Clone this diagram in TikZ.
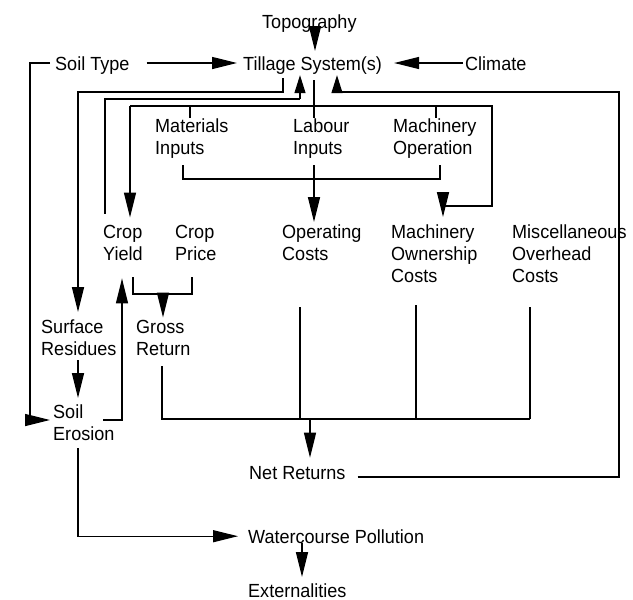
\documentclass[tikz,border=0pt]{standalone}
\usepackage{fontspec}
\setmainfont{Liberation Sans}[FakeStretch=0.95]
\usetikzlibrary{arrows.meta}

\begin{document}
\begin{tikzpicture}[
  x=1pt, y=-1pt,
  lbl/.style={inner sep=0pt, anchor=base west, align=left,
              font=\fontsize{19}{22}\selectfont},
  wire/.style={line width=1.3pt},
  arr/.style={wire, -{Triangle[length=25pt,width=12pt]}},
  arrshort/.style={wire, -{Triangle[length=18pt,width=11pt]}}
]
\fill[white] (0,0) rectangle (633,600);
\useasboundingbox (0,0) rectangle (633,600);

% ---- labels (base = baseline of the last line) ----
\node[lbl] (topo) at (262,28) {Topography};
\node[lbl] (soil) at (55,70) {Soil Type};
\node[lbl] (till) at (243,70) {Tillage System(s)};
\node[lbl] (clim) at (465,70) {Climate};
\node[lbl] (mat)  at (155,154) {Materials\\Inputs};
\node[lbl] (lab)  at (293,154) {Labour\\Inputs};
\node[lbl] (mop)  at (393,154) {Machinery\\Operation};
\node[lbl] (cy)   at (103,260) {Crop\\Yield};
\node[lbl] (cp)   at (175,260) {Crop\\Price};
\node[lbl] (opc)  at (282,260) {Operating\\Costs};
\node[lbl] (mo)   at (391,282) {Machinery\\Ownership\\Costs};
\node[lbl] (misc) at (512,282) {Miscellaneous\\Overhead\\Costs};
\node[lbl] (surf) at (41,355) {Surface\\Residues};
\node[lbl] (gr)   at (136,355) {Gross\\Return};
\node[lbl] (ero)  at (53,440) {Soil\\Erosion};
\node[lbl] (net)  at (249,479) {Net Returns};
\node[lbl] (wc)   at (248,543) {Watercourse Pollution};
\node[lbl] (ext)  at (248,597) {Externalities};

% ---- routing columns and rows ----
\coordinate (xT)    at (315,0);
\coordinate (xL)    at (30,0);
\coordinate (xSR)   at (78,0);
\coordinate (xCYup) at (105,0);
\coordinate (xCYin) at (130,0);
\coordinate (xEroS) at (103,0);
\coordinate (xEro)  at (122,0);
\coordinate (xCB1)  at (133,0);
\coordinate (xCB2)  at (192,0);
\coordinate (xGR)   at (163,0);
\coordinate (xG)    at (162,0);
\coordinate (xMatB) at (183,0);
\coordinate (xMat)  at (190,0);
\coordinate (xA)    at (283,0);
\coordinate (xB)    at (300,0);
\coordinate (xC)    at (314,0);
\coordinate (xD)    at (337,0);
\coordinate (xOp)   at (300,0);
\coordinate (xWC)   at (302,0);
\coordinate (xNet)  at (310,0);
\coordinate (xOw)   at (416,0);
\coordinate (xMO)   at (436,0);
\coordinate (xMOB)  at (440,0);
\coordinate (xOwn)  at (443,0);
\coordinate (xBusR) at (492,0);
\coordinate (xMi)   at (530,0);
\coordinate (xR)    at (619,0);

\coordinate (yTop)  at (0,63);
\coordinate (yA)    at (0,92);
\coordinate (yD)    at (0,92);
\coordinate (yB)    at (0,99);
\coordinate (yBus)  at (0,106);
\coordinate (yMatB) at (0,179);
\coordinate (yOwnH) at (0,192);
\coordinate (yOwn)  at (0,206);
\coordinate (yCB)   at (0,294);
\coordinate (yCost) at (0,419);
\coordinate (yEro)  at (0,420);
\coordinate (yNet)  at (0,477);

% ---- inputs to the tillage system ----
\draw[arr, shorten <=2pt, shorten >=5pt] (topo.south -| xT) -- (till.north -| xT);
\draw[arr, shorten <=17pt, shorten >=6pt] (soil.east |- yTop) -- (till.west |- yTop);
\draw[arr, shorten <=2pt, shorten >=12pt] (clim.west |- yTop) -- (till.east |- yTop);
\draw[arr, shorten <=5pt, shorten >=3pt] (soil.west |- yTop) -| (xL |- yEro) -- (ero.west |- yEro);

% ---- tillage system to surface residues ----
\draw[arr, shorten <=4pt, shorten >=7pt] (till.south -| xA) |- (xSR |- yA) -- (surf.north -| xSR);

% ---- crop yield back to the tillage system ----
\draw[wire, shorten <=11pt] (cy.north -| xCYup) |- (xB |- yB);
\draw[arrshort, shorten >=1pt] (xB |- yB) -- (till.south -| xB);

% ---- tillage system to its operations bus ----
\draw[wire, shorten <=6pt] (till.south -| xC) -- (lab.north -| xC);
\draw[wire] (xCYin |- yBus) -- (xBusR |- yBus) -- (xBusR |- yOwn) -- (xOwn |- yOwn);
\draw[arr, shorten >=7pt] (xCYin |- yBus) -- (cy.north -| xCYin);
\draw[wire] (xMat |- yBus) -- (mat.north -| xMat);
\draw[wire] (xMO |- yBus) -- (mop.north -| xMO);
\draw[arr, shorten >=7pt] (xOwn |- yOwnH) -- (mo.north -| xOwn);

% ---- inputs to operating costs ----
\draw[wire, shorten <=7pt, shorten >=7pt] (mat.south -| xMatB) |- (xMOB |- yMatB) -- (mop.south -| xMOB);
\draw[arr, shorten <=7pt, shorten >=2pt] (lab.south -| xC) -- (opc.north -| xC);

% ---- yield and price to gross return ----
\draw[wire, shorten <=17pt, shorten >=17pt] (cy.south -| xCB1) |- (xCB2 |- yCB) -- (cp.south -| xCB2);
\draw[arr, shorten >=2pt] (xGR |- yCB) -- (gr.north -| xGR);

% ---- residues, erosion and yield ----
\draw[arr, shorten <=5pt, shorten >=6pt] (surf.south -| xSR) -- (ero.north -| xSR);
\draw[arr, shorten >=18pt] (xEroS |- yEro) -| (cy.south -| xEro);

% ---- returns and costs to net returns ----
\draw[wire, shorten <=11pt] (gr.south -| xG) |- (xMi |- yCost);
\draw[wire, shorten <=47pt] (opc.south -| xOp) -- (xOp |- yCost);
\draw[wire, shorten <=23pt] (mo.south -| xOw) -- (xOw |- yCost);
\draw[wire, shorten <=25pt] (misc.south -| xMi) -- (xMi |- yCost);
\draw[arr, shorten >=8pt] (xNet |- yCost) -- (net.north -| xNet);

% ---- net returns back to the tillage system ----
\draw[wire, shorten <=12pt] (net.east |- yNet) -| (xR |- yD) -- (xD |- yD);
\draw[arrshort, shorten >=1pt] (xD |- yD) -- (till.south -| xD);

% ---- off-site effects ----
\draw[arr, shorten <=8pt, shorten >=10pt] (ero.south -| xSR) |- (wc.west);
\draw[arr, shorten >=6pt] (wc.south -| xWC) -- (ext.north -| xWC);
\end{tikzpicture}
\end{document}
